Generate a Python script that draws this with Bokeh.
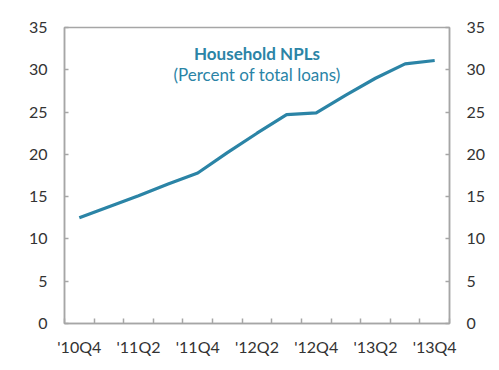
from bokeh.plotting import figure
from bokeh.models import FixedTicker, LinearAxis, Range1d, Label
from bokeh.embed import file_html
from bokeh.resources import INLINE

quarters = ["'10Q4", "'11Q1", "'11Q2", "'11Q3", "'11Q4", "'12Q1", "'12Q2",
            "'12Q3", "'12Q4", "'13Q1", "'13Q2", "'13Q3", "'13Q4"]
npl = [12.5, 13.8, 15.1, 16.5, 17.8, 20.2, 22.5, 24.7, 24.9, 27.0, 29.0, 30.7, 31.1]
y_ticks = [0, 5, 10, 15, 20, 25, 30, 35]
title_text = "Household NPLs"
subtitle_text = "(Percent of total loans)"

FONT = "Lato"
AXIS_GRAY = "#A6A6A6"
TEXT_COL = "#333333"
BLUE = "#2B84A6"

xs = list(range(len(quarters)))
x_start, x_end = -0.5, len(quarters) - 0.5

p = figure(width=499, height=370, output_backend="svg", toolbar_location=None,
           x_range=Range1d(x_start, x_end), y_range=Range1d(0, 35),
           min_border_left=64, min_border_right=50, min_border_top=27, min_border_bottom=47)
p.grid.visible = False
p.outline_line_color = AXIS_GRAY
p.outline_line_width = 1.5
p.background_fill_color = "white"
p.border_fill_color = "white"

p.line(xs, npl, line_color=BLUE, line_width=3.2)

# x axis
label_idx = list(range(0, len(quarters), 2))
xa = p.xaxis[0]
xa.ticker = FixedTicker(ticks=label_idx,
                        minor_ticks=[i - 0.5 for i in range(len(quarters) + 1)])
xa.major_label_overrides = {i: quarters[i] for i in label_idx}
xa.major_tick_in = 0
xa.major_tick_out = 0
xa.minor_tick_in = 5
xa.minor_tick_out = 0
xa.minor_tick_line_color = AXIS_GRAY
xa.minor_tick_line_width = 1.5
xa.axis_line_color = AXIS_GRAY
xa.axis_line_width = 1.5
xa.major_label_standoff = 13
xa.major_label_text_font = FONT
xa.major_label_text_font_size = "16px"
xa.major_label_text_color = TEXT_COL

# y axes
ya = p.yaxis[0]
ra = LinearAxis()
p.add_layout(ra, "right")
for ax in (ya, ra):
    ax.ticker = FixedTicker(ticks=y_ticks)
    ax.major_tick_in = 4
    ax.major_tick_out = 0
    ax.minor_tick_line_color = None
    ax.major_tick_line_color = AXIS_GRAY
    ax.major_tick_line_width = 1.5
    ax.axis_line_color = AXIS_GRAY
    ax.axis_line_width = 1.5
    ax.major_label_standoff = 17
    ax.major_label_text_font = FONT
    ax.major_label_text_font_size = "16px"
    ax.major_label_text_color = TEXT_COL

cx = (x_start + x_end) / 2
p.add_layout(Label(x=cx, y=31.9, text=title_text, text_align="center",
                   text_baseline="alphabetic", text_font=FONT, text_font_style="bold",
                   text_font_size="17px", text_color=BLUE))
p.add_layout(Label(x=cx, y=29.5, text=subtitle_text, text_align="center",
                   text_baseline="alphabetic", text_font=FONT,
                   text_font_size="17px", text_color=BLUE))

open("out.html", "w").write(file_html(p, INLINE))
